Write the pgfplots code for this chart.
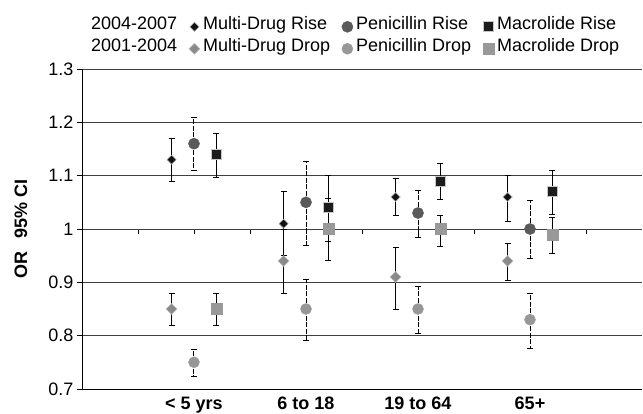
\documentclass[border=0pt]{standalone}
\usepackage{pgfplots}
\pgfplotsset{compat=1.18}
\usepackage{fontspec}
\setmainfont{Liberation Sans}
\definecolor{mdrisefill}{HTML}{111111}
\definecolor{penrisefill}{HTML}{5A5A5A}
\definecolor{macrisefill}{HTML}{1C1C1C}
\definecolor{mddropfill}{HTML}{8A8A8A}
\definecolor{pendropfill}{HTML}{979797}
\definecolor{macdropfill}{HTML}{999999}
\definecolor{gridc}{HTML}{404040}
\pgfplotsset{
  mdrise/.style={only marks, mark=square*, mark size=3.2pt, mark options={rotate=45, fill=mdrisefill, draw=gray!70, line width=0.6pt}},
  penrise/.style={only marks, mark=*, mark size=5.6pt, mark options={fill=penrisefill, draw=penrisefill}},
  macrise/.style={only marks, mark=square*, mark size=5pt, mark options={fill=macrisefill, draw=gray!45, line width=0.8pt}},
  mddrop/.style={only marks, mark=square*, mark size=3.8pt, mark options={rotate=45, fill=mddropfill, draw=gray!55, line width=0.6pt}},
  pendrop/.style={only marks, mark=*, mark size=5.5pt, mark options={fill=pendropfill, draw=pendropfill}},
  macdrop/.style={only marks, mark=square*, mark size=5.5pt, mark options={fill=macdropfill, draw=macdropfill}},
  ebars/.style={error bars/.cd, y dir=both, y explicit,
    error mark=|,
    error bar style={black, line width=1pt},
    error mark options={black, solid, line width=1pt, mark size=3pt}, /pgfplots/.cd},
  ebarsdash/.style={error bars/.cd, y dir=both, y explicit,
    error mark=|,
    error bar style={black, line width=1pt, dash pattern=on 5pt off 1.5pt},
    error mark options={black, solid, line width=1pt, mark size=3pt}, /pgfplots/.cd},
}
\begin{document}
\begin{tikzpicture}
% axis line at OR = 1 with its ticks
\begin{axis}[at={(0,0)}, anchor=south west, scale only axis,
  width=560pt, height=320pt,
  xmin=0, xmax=10, ymin=-0.3, ymax=0.3,
  axis x line=middle, axis y line=none,
  xtick={1,2,...,9}, xticklabels={},
  major tick length=5pt, tick align=outside,
  axis line style={-, black, line width=0.9pt},
  xtick style={black, line width=0.9pt}]
\end{axis}
\begin{axis}[at={(0,0)}, anchor=south west, scale only axis,
  width=560pt, height=320pt,
  xmin=0, xmax=10, ymin=0.7, ymax=1.3,
  axis x line=bottom, axis y line=left,
  axis line style={-, black, line width=0.9pt},
  /pgf/number format/assume math mode=true,
  ytick={0.7,0.8,0.9,1,1.1,1.2,1.3},
  yticklabels={0.7,0.8,0.9,1,1.1,1.2,1.3},
  ytick style={black, line width=0.9pt},
  tick align=outside, major tick length=5pt,
  xtick={2,4,6,8},
  xticklabels={{< 5 yrs},{6 to 18},{19 to 64},{65+}},
  xtick style={draw=none},
  xticklabel style={font=\fontsize{18}{20}\selectfont\bfseries, inner sep=0pt, text height=13pt, text depth=0pt, yshift=-2.5pt},
  yticklabel style={font=\fontsize{18}{20}\selectfont},
  ymajorgrids, grid style={gridc, line width=0.9pt},
  ylabel={OR\hspace{0.7em}95\% CI},
  every axis y label/.style={at={(axis description cs:-0.109,0.5)}, rotate=90, anchor=center, font=\fontsize{18}{20}\selectfont\bfseries},
  legend columns=4,
  legend cell align=left,
  legend image code/.code={\path (-10pt,-1pt) (11.5pt,1pt); \draw[mark repeat=2,mark phase=2,#1] plot coordinates {(0pt,0pt) (5pt,0pt) (10pt,0pt)};},
  legend style={at={(axis description cs:0,1)}, anchor=south west, xshift=7pt, yshift=9pt,
    draw=none, fill=none, inner sep=0pt, row sep=0pt,
    font=\fontsize{18}{20}\selectfont,
    nodes={inner ysep=0pt, inner xsep=2pt, text height=14pt, text depth=8pt}},
]
% Multi-Drug Rise (2004-2007)
\addplot[mdrise, forget plot, ebars] coordinates {
  (1.6,1.13) += (0,0.04) -= (0,0.04)
  (3.6,1.01) += (0,0.06) -= (0,0.06)
  (5.6,1.06) += (0,0.035) -= (0,0.035)
  (7.6,1.06) += (0,0.04) -= (0,0.045)
};
% Penicillin Rise
\addplot[penrise, forget plot, ebarsdash] coordinates {
  (2,1.16) += (0,0.05) -= (0,0.05)
  (4,1.05) += (0,0.077) -= (0,0.08)
  (6,1.03) += (0,0.042) -= (0,0.045)
  (8,1.00) += (0,0.053) -= (0,0.055)
};
% Macrolide Rise
\addplot[macrise, forget plot, ebars] coordinates {
  (2.4,1.14) += (0,0.04) -= (0,0.043)
  (4.4,1.04) += (0,0.06) -= (0,0.063)
  (6.4,1.09) += (0,0.032) -= (0,0.035)
  (8.4,1.07) += (0,0.039) -= (0,0.042)
};
% Multi-Drug Drop (2001-2004)
\addplot[mddrop, forget plot, ebars] coordinates {
  (1.6,0.85) += (0,0.03) -= (0,0.03)
  (3.6,0.94) += (0,0.06) -= (0,0.06)
  (5.6,0.91) += (0,0.056) -= (0,0.06)
  (7.6,0.94) += (0,0.033) -= (0,0.036)
};
% Penicillin Drop
\addplot[pendrop, forget plot, ebarsdash] coordinates {
  (2,0.75) += (0,0.025) -= (0,0.027)
  (4,0.85) += (0,0.056) -= (0,0.059)
  (6,0.85) += (0,0.042) -= (0,0.046)
  (8,0.83) += (0,0.05) -= (0,0.054)
};
% Macrolide Drop
\addplot[macdrop, forget plot, ebars] coordinates {
  (2.4,0.85) += (0,0.03) -= (0,0.03)
  (4.4,1.00) += (0,0.057) -= (0,0.059)
  (6.4,1.00) += (0,0.026) -= (0,0.033)
  (8.4,0.99) += (0,0.032) -= (0,0.036)
};
\addlegendimage{empty legend}\addlegendentry{2004-2007}
\addlegendimage{mdrise}\addlegendentry{Multi-Drug Rise}
\addlegendimage{penrise}\addlegendentry{Penicillin Rise}
\addlegendimage{macrise}\addlegendentry{Macrolide Rise}
\addlegendimage{empty legend}\addlegendentry{2001-2004}
\addlegendimage{mddrop}\addlegendentry{Multi-Drug Drop}
\addlegendimage{pendrop}\addlegendentry{Penicillin Drop}
\addlegendimage{macdrop}\addlegendentry{Macrolide Drop}
\end{axis}
\pgfresetboundingbox
\path[use as bounding box] (-82pt,-24pt) rectangle (561pt,389pt);
\end{tikzpicture}
\end{document}
